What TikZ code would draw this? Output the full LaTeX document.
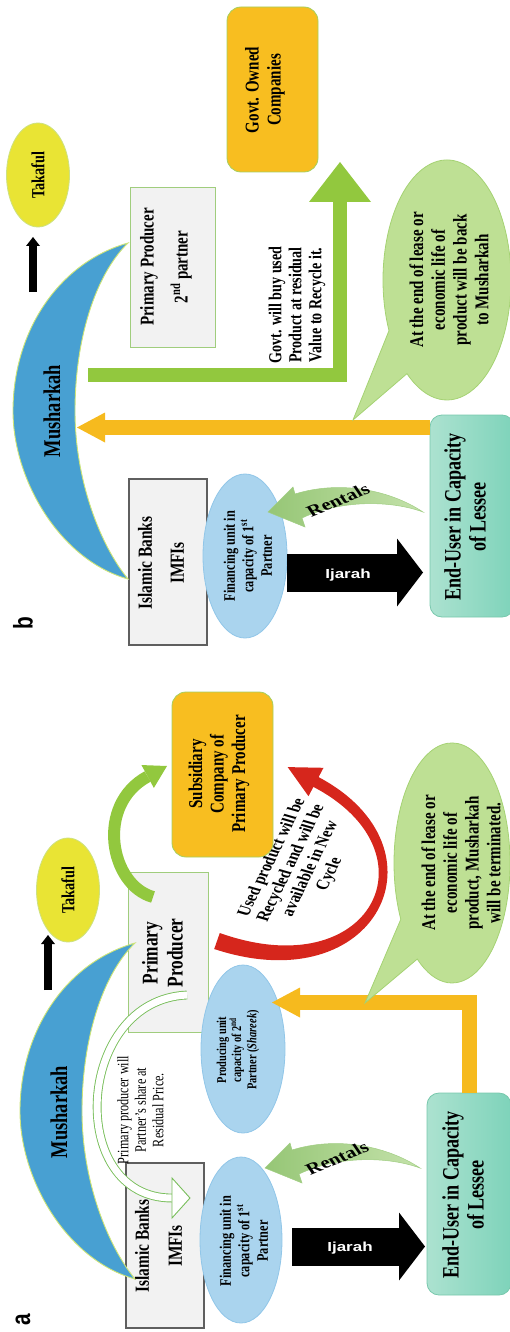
\documentclass[tikz,border=0pt]{standalone}
\usepackage{fontspec}
\setmainfont{Liberation Serif}
\newfontfamily\arrowsans{Liberation Sans}
\usetikzlibrary{arrows.meta,shapes.geometric,calc}

\definecolor{mushblue}{RGB}{72,160,210}
\definecolor{mushedge}{RGB}{205,228,120}
\definecolor{takyellow}{RGB}{233,228,52}
\definecolor{takedge}{RGB}{205,225,130}
\definecolor{boxgray}{RGB}{242,242,242}
\definecolor{ppedge}{RGB}{160,205,125}
\definecolor{ibedge}{RGB}{95,95,95}
\definecolor{unitblue}{RGB}{170,212,238}
\definecolor{unitedge}{RGB}{145,198,232}
\definecolor{orangefill}{RGB}{248,190,32}
\definecolor{orangeedge}{RGB}{165,208,95}
\definecolor{limegreen}{RGB}{146,200,62}
\definecolor{ambar}{RGB}{246,186,30}
\definecolor{bubblegreen}{RGB}{190,224,148}
\definecolor{bubbleedge}{RGB}{165,210,115}
\definecolor{tealL}{RGB}{172,226,208}
\definecolor{tealR}{RGB}{126,211,186}
\definecolor{tealedge}{RGB}{120,200,172}
\definecolor{rentgreen}{RGB}{150,198,118}
\definecolor{rentgreenL}{RGB}{196,226,170}
\definecolor{rentedge}{RGB}{160,205,130}
\definecolor{recyclered}{RGB}{214,38,28}
\definecolor{hollowgreen}{RGB}{120,190,90}

\newcommand{\fsz}[2]{\fontsize{#1}{#2}\selectfont}

% all lettering is set slightly condensed along the page's vertical axis
\tikzset{
  vtext/.style={yscale=0.77, rotate=90, align=center, inner sep=0pt, text=black},
  crescent/.style={fill=mushblue, draw=mushedge, line width=0.9pt},
  takafulshape/.style={ellipse, fill=takyellow, draw=takedge, line width=0.8pt,
    minimum width=63pt, minimum height=104pt, inner sep=0pt},
  ppbox/.style={rectangle, fill=boxgray, draw=ppedge, line width=0.9pt, inner sep=0pt},
  ibbox/.style={rectangle, fill=boxgray, draw=ibedge, line width=1.1pt, inner sep=0pt},
  unit/.style={ellipse, fill=unitblue, draw=unitedge, line width=0.8pt, inner sep=0pt},
  orangebox/.style={rectangle, rounded corners=14pt, fill=orangefill, draw=orangeedge,
    line width=0.8pt, inner sep=0pt},
  lessee/.style={rectangle, rounded corners=12pt, left color=tealL, right color=tealR,
    draw=tealedge, line width=0.8pt, inner sep=0pt},
  bubble/.style={fill=bubblegreen, draw=bubbleedge, line width=0.8pt},
  rentals/.style={left color=rentgreen, right color=rentgreenL, draw=rentedge, line width=0.5pt},
  blackarrow/.style={draw=black, line width=7.5pt, -{Triangle[width=14pt,length=9pt,line width=0pt]}},
  greenL/.style={draw=limegreen, line width=14pt, -{Triangle[width=62pt,length=40pt,line width=0pt]}},
  amberarrow/.style={draw=ambar, line width=15pt, -{Triangle[width=30pt,length=28pt,line width=0pt]}},
  ijarah/.style={draw=black, line width=38pt, -{Triangle[width=68pt,length=26pt,line width=0pt]}},
  ijtext/.style={yscale=0.77, font=\arrowsans\bfseries\fsz{17}{17}, text=white, inner sep=0pt},
  renttext/.style={yscale=0.77, rotate=27.7, font=\bfseries\fsz{21}{21}, inner sep=0pt},
  paneltag/.style={yscale=0.77, rotate=90, font=\arrowsans\bfseries\fsz{27}{27}, inner sep=0pt},
}

\begin{document}
\begin{tikzpicture}[x=1pt,y=-1pt]
\useasboundingbox (0,0) rectangle (510,1332);

%================ panel b (upper half) ================
\node[orangebox, minimum width=91pt, minimum height=165pt] (govt) at (272.5,89.5) {};
\node[vtext, font=\bfseries\fsz{19.5}{22}] (govt-t) at (265,90) {Govt. Owned\\Companies};

\node[ppbox, minimum width=85pt, minimum height=160pt] (ppb) at (172.5,267) {};
\node[vtext, font=\bfseries\fsz{19.5}{34}] (ppb-t) at (166,267) {Primary Producer\\2\textsuperscript{nd} partner};

\node[ibbox, minimum width=78pt, minimum height=166pt] (ibb) at (168,562) {};
\node[vtext, font=\bfseries\fsz{20}{32}] (ibb-t) at (161,563) {Islamic Banks\\IMFIs};

\node[unit, minimum width=84pt, minimum height=164pt] (finb) at (245,556) {};
\node[vtext, font=\bfseries\fsz{16}{18.5}] (finb-t) at (248,556) {Financing unit in\\capacity of 1\textsuperscript{st}\\Partner};

\node[lessee, minimum width=84pt, minimum height=202pt] (eub) at (472,516) {};
\node[vtext, font=\bfseries\fsz{23.5}{25}] (eub-t) at (465,517) {End-User in Capacity\\of Lessee};

\node[takafulshape] (takb) at (38,175) {};
\node[vtext, font=\bfseries\fsz{18.5}{18.5}] (takb-t) at (takb) {Takaful};

\coordinate (blkb-s) at (33,292);
\coordinate (blkb-e) at (33,237);
\draw[blackarrow] (blkb-s) -- (blkb-e);

% Musharkah crescent
\path[crescent] (128,243) .. controls (60,262) and (13,330) .. (13,411)
  .. controls (13,480) and (60,560) .. (128,579)
  .. controls (100,545) and (75,480) .. (75,411)
  .. controls (75,340) and (95,275) .. (128,243) -- cycle;
\node[vtext, font=\bfseries\fsz{24}{24}] (mushb) at (52,411) {Musharkah};

% residual-value buy-back to government companies
\coordinate (glb-s) at (88,375);
\coordinate (glb-e) at (340,162);
\draw[greenL] (glb-s) -| (glb-e);
\node[vtext, font=\bfseries\fsz{18.3}{20}] (govnote) at (297,305)
  {Govt. will buy used\\Product at residual\\Value to Recycle it.};

% lessee returns product to the Musharkah
\coordinate (yb-s) at (430,427.5);
\coordinate (yb-e) at (77,427.5);
\draw[amberarrow] (yb-s) -- (yb-e);

\coordinate (tailb) at (353,420);
\path[bubble] (389.0,330.7) arc[start angle=155, end angle=488.7, x radius=64, y radius=120]
  -- (tailb) -- cycle;
\node[vtext, font=\bfseries\fsz{19.5}{21.7}] (bubb-t) at (449,280)
  {At the end of lease or\\economic life of\\product will be back\\to Musharkah};

% rentals and ijarah
\path[rentals] (268,512) -- (293,487) -- (295,494) .. controls (340,480) and (390,490) .. (423,512)
  .. controls (390,500) and (340,500) .. (302,518) -- (305,527) -- cycle;
\node[renttext] (rentb) at (338,500) {Rentals};

\coordinate (ijb-s) at (287,572.5);
\coordinate (ijb-e) at (423,572.5);
\draw[ijarah] (ijb-s) -- (ijb-e);
\node[ijtext] (ijb-t) at (348,575) {Ijarah};

\node[paneltag] (tagb) at (23,623) {b};

%================ panel a (lower half) ================
\node[orangebox, minimum width=101pt, minimum height=165pt] (subs) at (222.5,774.5) {};
\node[vtext, font=\bfseries\fsz{19.5}{21.5}] (subs-t) at (219,774) {Subsidiary\\Company of\\Primary Producer};

\node[ppbox, minimum width=80pt, minimum height=160pt] (ppa) at (168,952) {};
\node[vtext, font=\bfseries\fsz{22.5}{25}] (ppa-t) at (162.5,953) {Primary\\Producer};

\node[ibbox, minimum width=78pt, minimum height=165pt] (iba) at (165,1245.5) {};
\node[vtext, font=\bfseries\fsz{20}{33}] (iba-t) at (158.5,1246) {Islamic Banks\\IMFIs};

\node[unit, minimum width=82pt, minimum height=166pt] (fina) at (241,1240) {};
\node[vtext, font=\bfseries\fsz{16}{18.5}] (fina-t) at (244,1241) {Financing unit in\\capacity of 1\textsuperscript{st}\\Partner};

\node[unit, minimum width=84pt, minimum height=168pt] (proda) at (243,1049) {};
\node[vtext, font=\bfseries\fsz{13.5}{15}] (proda-t) at (238,1050) {Producing unit\\capacity of 2\textsuperscript{nd}\\Partner (\textit{Shareek})};

\node[lessee, minimum width=84pt, minimum height=202pt] (eua) at (469,1194) {};
\node[vtext, font=\bfseries\fsz{23.5}{25}] (eua-t) at (463,1195) {End-User in Capacity\\of Lessee};

\node[takafulshape] (taka) at (68,890) {};
\node[vtext, font=\bfseries\fsz{18.5}{18.5}] (taka-t) at (taka) {Takaful};

\coordinate (blka-s) at (48,990);
\coordinate (blka-e) at (48,935);
\draw[blackarrow] (blka-s) -- (blka-e);

% Musharkah crescent
\begin{scope}[shift={(7,700)}]
\path[crescent] (128,243) .. controls (60,262) and (13,330) .. (13,411)
  .. controls (13,480) and (60,560) .. (128,579)
  .. controls (100,545) and (75,480) .. (75,411)
  .. controls (75,340) and (95,275) .. (128,243) -- cycle;
\end{scope}
\node[vtext, font=\bfseries\fsz{24}{24}] (musha) at (59,1112) {Musharkah};

% producer to its subsidiary
\coordinate (ga-s) at (153,897);
\coordinate (ga-e) at (167,766);
\draw[draw=limegreen, line width=12pt, -{Triangle[width=26pt,length=22pt,line width=0pt]}]
  (ga-s) .. controls (110,885) and (95,805) .. (ga-e);

% recycling loop back to the subsidiary (tapering band with its head)
\coordinate (ra-s) at (217,941);
\coordinate (ra-e) at (287.7,767.1);
\path[fill=recyclered] (214.2,949) .. controls (378,1003) and (452,848) .. (318.6,777.1)
  -- (323.5,767.8) -- (ra-e) -- (308.5,796.2) -- (313.4,786.9)
  .. controls (438,852) and (372,987) .. (219.8,933) -- cycle;
\node[yscale=0.77, rotate=69.4, align=center, inner sep=0pt, font=\bfseries\fsz{18.5}{20.5}] (recyc-t) at (301,866)
  {Used product will be\\Recycled and will be\\available in New\\Cycle};

% buy-out of the partner's share (hollow arrow)
\coordinate (ha-s) at (187,995);
\coordinate (ha-e) at (172,1198);
\draw[draw=hollowgreen, line width=0.9pt, double=white, double distance=7pt]
  (ha-s) .. controls (75,1000) and (65,1198) .. (ha-e);
\path[fill=white, draw=hollowgreen, line width=0.9pt] (172,1178) -- (190,1198) -- (172,1218) -- cycle;
\node[vtext, font=\fsz{15.9}{17.5}] (buyout-t) at (140.5,1110)
  {Primary producer will\\Partner's share at\\Residual Price.};

% lessee hands the product back
\coordinate (ya-s) at (469.5,1093);
\coordinate (ya-e) at (272,1002.5);
\draw[amberarrow] (ya-s) |- (ya-e);

\coordinate (taila) at (365,1003);
\path[bubble] (400.8,919.3) arc[start angle=152, end angle=486.8, x radius=58, y radius=120]
  -- (taila) -- cycle;
\node[vtext, font=\bfseries\fsz{19.5}{21.7}] (buba-t) at (461,863)
  {At the end of lease or\\economic life of\\product, Musharkah\\will be terminated.};

% rentals and ijarah
\begin{scope}[shift={(-3,656)}]
\path[rentals] (268,512) -- (293,487) -- (295,494) .. controls (340,480) and (390,490) .. (423,512)
  .. controls (390,500) and (340,500) .. (302,518) -- (305,527) -- cycle;
\end{scope}
\node[renttext] (renta) at (337,1158) {Rentals};

\coordinate (ija-s) at (292,1246.5);
\coordinate (ija-e) at (425,1246.5);
\draw[ijarah] (ija-s) -- (ija-e);
\node[ijtext] (ija-t) at (350,1248) {Ijarah};

\node[paneltag] (taga) at (23,1320) {a};
\end{tikzpicture}
\end{document}
